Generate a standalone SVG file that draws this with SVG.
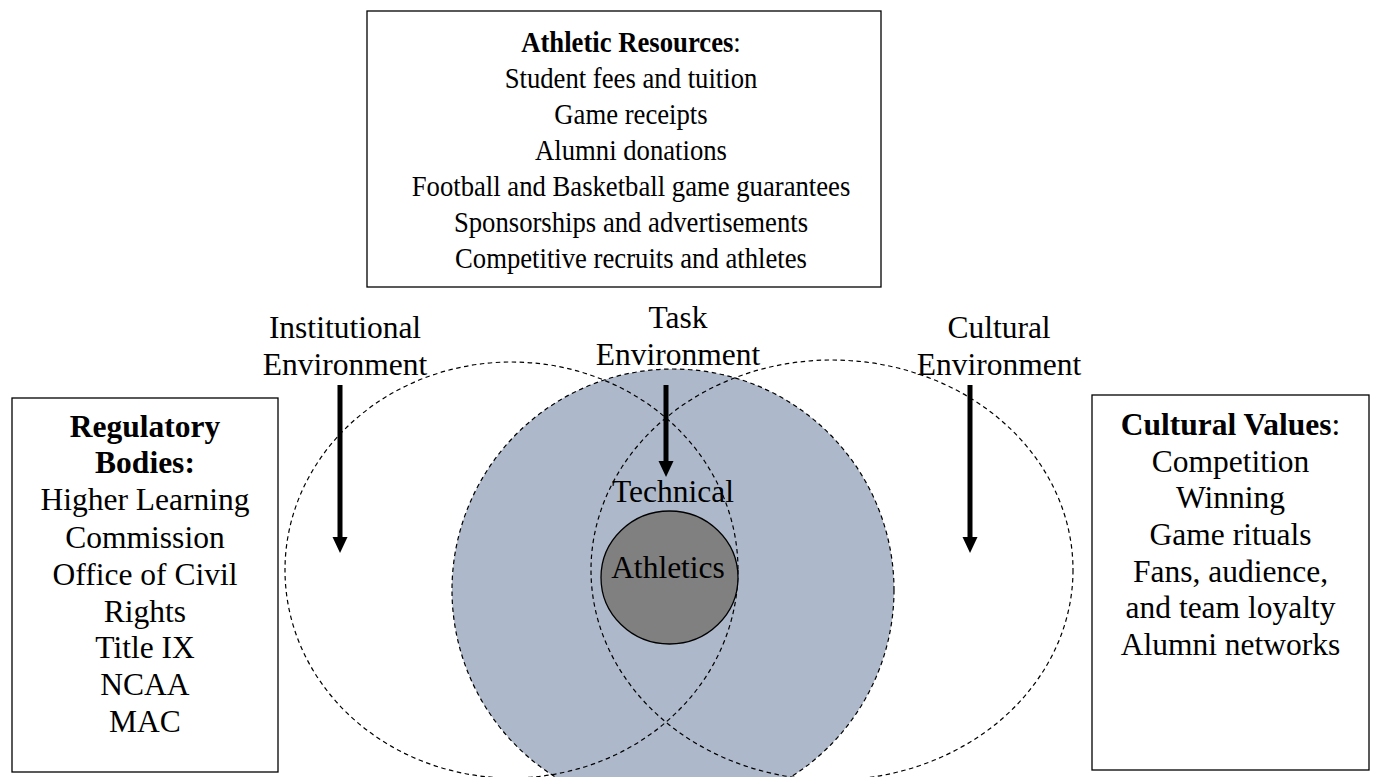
<svg xmlns="http://www.w3.org/2000/svg" width="1374" height="777" viewBox="0 0 1374 777">
<style>
text{font-family:"Liberation Serif","Times New Roman",serif;fill:#000;text-anchor:middle}
.t{font-size:31.5px}
.tb{font-size:30px}
.b{font-weight:bold}
.box{fill:#fff;stroke:#000;stroke-width:1.3}
.dash{fill:none;stroke:#000;stroke-width:1.2;stroke-dasharray:4.5 3.5}
.arr{stroke:#000;stroke-width:5;fill:none}
</style>
<defs>
<marker id="ah" markerUnits="userSpaceOnUse" markerWidth="16" markerHeight="16" refX="0" refY="8" orient="auto" viewBox="0 0 16 16">
<path d="M0,0.5 L16,8 L0,15.5 z" fill="#000"/>
</marker>
</defs>
<rect width="1374" height="777" fill="#fff"/>

<g id="task-environment">
<circle cx="673" cy="590" r="221" fill="#adb9ca" stroke="#000" stroke-width="1.2" stroke-dasharray="4.5 3.5"/>
<text class="t" x="678" y="328">Task</text>
<text class="t" x="678" y="365">Environment</text>
</g>

<g id="institutional-environment">
<ellipse class="dash" cx="511.5" cy="570" rx="226.5" ry="208"/>
<text class="t" x="345" y="338">Institutional</text>
<text class="t" x="345" y="375">Environment</text>
</g>

<g id="cultural-environment">
<ellipse class="dash" cx="832" cy="570" rx="241" ry="210"/>
<text class="t" x="999" y="338">Cultural</text>
<text class="t" x="999" y="375">Environment</text>
</g>

<g id="technical">
<text class="t" x="673" y="502">Technical</text>
</g>

<g id="athletics">
<ellipse cx="669.5" cy="577.5" rx="68.5" ry="66.5" fill="#808080" stroke="#000" stroke-width="1.3"/>
<text class="t" x="668" y="578">Athletics</text>
</g>

<g id="athletic-resources">
<rect class="box" x="367" y="11" width="514" height="276"/>
<g transform="translate(631,0) scale(0.89,1)">
<text class="tb" x="0" y="52"><tspan class="b">Athletic Resources</tspan>:</text>
<text class="tb" x="0" y="88">Student fees and tuition</text>
<text class="tb" x="0" y="124">Game receipts</text>
<text class="tb" x="0" y="160">Alumni donations</text>
<text class="tb" x="0" y="196">Football and Basketball game guarantees</text>
<text class="tb" x="0" y="232">Sponsorships and advertisements</text>
<text class="tb" x="0" y="268">Competitive recruits and athletes</text>
</g>
</g>

<g id="regulatory-bodies">
<rect class="box" x="12" y="398" width="266" height="374"/>
<text class="t b" x="145" y="437">Regulatory</text>
<text class="t b" x="145" y="473">Bodies:</text>
<text class="t" x="145" y="510">Higher Learning</text>
<text class="t" x="145" y="548">Commission</text>
<text class="t" x="145" y="585">Office of Civil</text>
<text class="t" x="145" y="622">Rights</text>
<text class="t" x="145" y="658">Title IX</text>
<text class="t" x="145" y="695">NCAA</text>
<text class="t" x="145" y="732">MAC</text>
</g>

<g id="cultural-values">
<rect class="box" x="1092" y="395" width="277" height="375"/>
<text class="t" x="1230.5" y="435"><tspan class="b">Cultural Values</tspan>:</text>
<text class="t" x="1230.5" y="472">Competition</text>
<text class="t" x="1230.5" y="508">Winning</text>
<text class="t" x="1230.5" y="545">Game rituals</text>
<text class="t" x="1230.5" y="582">Fans, audience,</text>
<text class="t" x="1230.5" y="618">and team loyalty</text>
<text class="t" x="1230.5" y="655">Alumni networks</text>
</g>

<g id="connectors">
<line class="arr" x1="340" y1="385" x2="340" y2="537" marker-end="url(#ah)"/>
<line class="arr" x1="666" y1="385" x2="666" y2="461" marker-end="url(#ah)"/>
<line class="arr" x1="970" y1="385" x2="970" y2="537" marker-end="url(#ah)"/>
</g>
</svg>
